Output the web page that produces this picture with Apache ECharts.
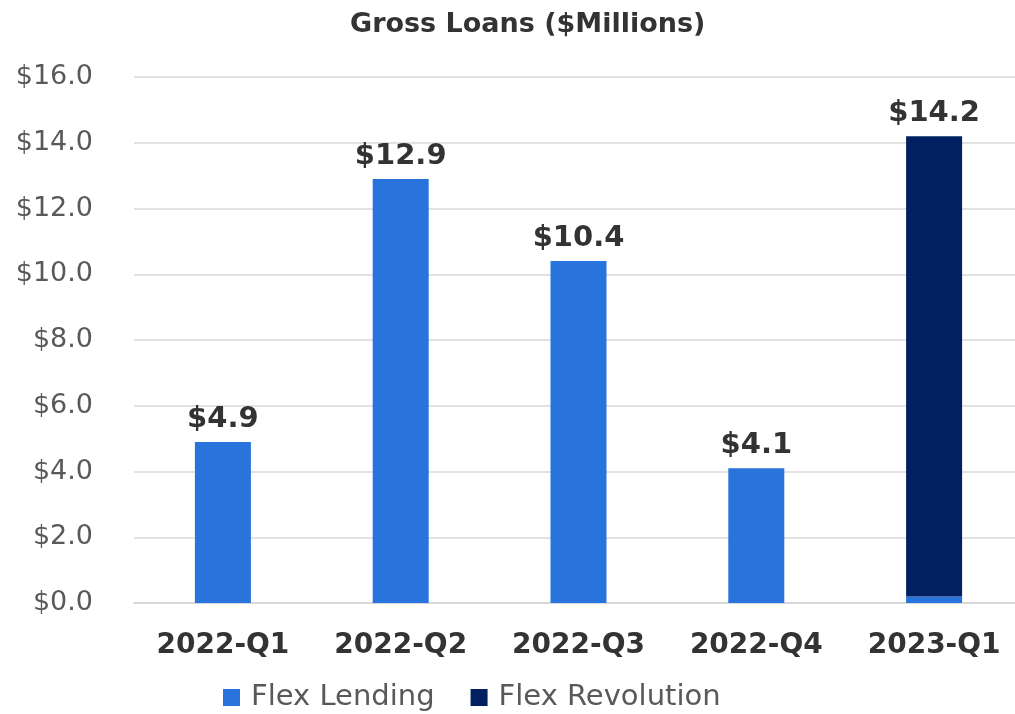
<!DOCTYPE html>
<html>
<head>
<meta charset="utf-8">
<script src="https://cdn.jsdelivr.net/npm/echarts@6/dist/echarts.min.js"></script>
<style>
  html, body { margin: 0; padding: 0; background: #fff; }
  #main { width: 1015px; height: 714px; }
</style>
</head>
<body>
<div id="main"></div>
<script>
var quarters = ['2022-Q1', '2022-Q2', '2022-Q3', '2022-Q4', '2023-Q1'];
var flexLending = [4.9, 12.9, 10.4, 4.1, 0.2];
var flexRevolution = [0, 0, 0, 0, 14.0];

// totals for the labels over each bar
var totals = quarters.map(function (q, i) {
    return Math.round((flexLending[i] + flexRevolution[i]) * 10) / 10;
});

var labelStyle = {
    show: true,
    position: 'top',
    distance: 8,
    fontFamily: 'DejaVu Sans',
    fontWeight: 'bold',
    fontSize: 29,
    color: '#333333'
};

var chart = echarts.init(document.getElementById('main'));
chart.setOption({
    animation: false,
    title: {
        text: 'Gross Loans ($Millions)',
        left: 345,
        top: 6,
        textStyle: { fontFamily: 'DejaVu Sans', fontWeight: 'bold', fontSize: 27, color: '#333333' }
    },
    legend: {
        top: 678,
        left: 218,
        itemWidth: 17,
        itemHeight: 17,
        itemGap: 36,
        icon: 'rect',
        textStyle: { fontFamily: 'DejaVu Sans', fontSize: 29, color: '#595959', padding: [0, 0, 0, 6] },
        data: ['Flex Lending', 'Flex Revolution']
    },
    // plot runs a little past the right edge, as in the original
    grid: { left: 134, width: 889, top: 77, bottom: 111, outerBoundsMode: 'none', containLabel: false },
    xAxis: {
        type: 'category',
        data: quarters,
        axisLine: { lineStyle: { color: '#d9d9d9', width: 2 } },
        axisTick: { show: false },
        axisLabel: { fontFamily: 'DejaVu Sans', fontWeight: 'bold', fontSize: 28, color: '#333333', margin: 29 }
    },
    yAxis: {
        type: 'value',
        min: 0,
        max: 16,
        interval: 2,
        axisLine: { show: false },
        axisTick: { show: false },
        splitLine: { lineStyle: { color: '#d9d9d9', width: 1.5 } },
        axisLabel: {
            fontFamily: 'DejaVu Sans', fontSize: 27, color: '#595959', margin: 41,
            formatter: function (v) { return '$' + v.toFixed(1); }
        }
    },
    series: [
        {
            name: 'Flex Lending',
            type: 'bar',
            stack: 'loans',
            barWidth: '31.5%',
            itemStyle: { color: '#2873DC' },
            label: Object.assign({}, labelStyle, {
                formatter: function (p) {
                    return flexRevolution[p.dataIndex] > 0 ? '' : '$' + totals[p.dataIndex].toFixed(1);
                }
            }),
            data: flexLending
        },
        {
            name: 'Flex Revolution',
            type: 'bar',
            stack: 'loans',
            barWidth: '31.5%',
            itemStyle: { color: '#00205F' },
            label: Object.assign({}, labelStyle, {
                formatter: function (p) {
                    return flexRevolution[p.dataIndex] > 0 ? '$' + totals[p.dataIndex].toFixed(1) : '';
                }
            }),
            data: flexRevolution
        }
    ]
});
</script>
</body>
</html>
